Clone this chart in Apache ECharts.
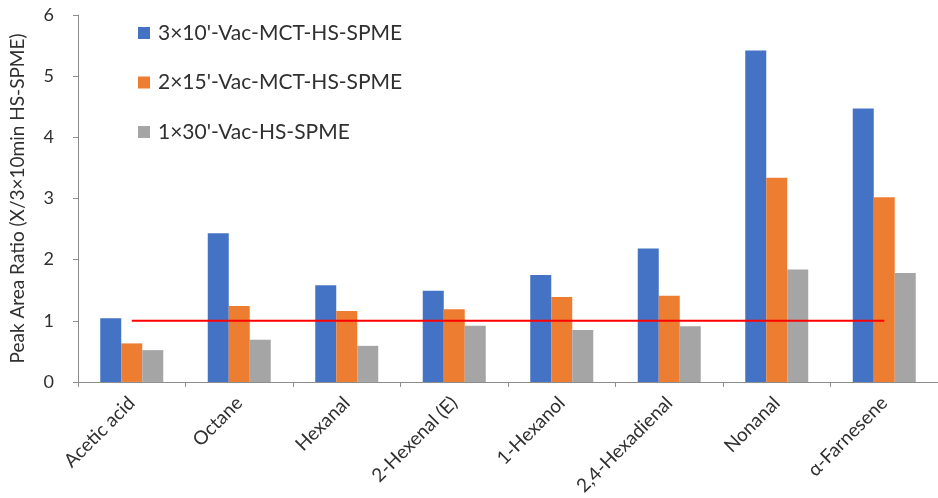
<!DOCTYPE html>
<html>
<head>
<meta charset="utf-8">
<script src="https://cdn.jsdelivr.net/npm/echarts@6/dist/echarts.min.js"></script>
<style>
  html, body { margin: 0; padding: 0; background: #ffffff; }
  #chart { width: 938px; height: 498px; }
</style>
</head>
<body>
<div id="chart"></div>
<script>
// Compounds on the x axis
const categories = ['Acetic acid', 'Octane', 'Hexanal', '2-Hexenal (E)', '1-Hexanol', '2,4-Hexadienal', 'Nonanal', 'α-Farnesene'];

// Peak area ratios relative to 3×10min HS-SPME
const seriesNames = ["3×10'-Vac-MCT-HS-SPME", "2×15'-Vac-MCT-HS-SPME", "1×30'-Vac-HS-SPME"];
const vacMct3x10 = [1.04, 2.43, 1.58, 1.49, 1.75, 2.18, 5.42, 4.47];
const vacMct2x15 = [0.63, 1.24, 1.16, 1.19, 1.39, 1.41, 3.34, 3.02];
const vac1x30   = [0.52, 0.69, 0.59, 0.92, 0.85, 0.91, 1.84, 1.78];

// Reference ratio = 1
const referenceLine = [1, 1, 1, 1, 1, 1, 1, 1];

const yTicks = [0, 1, 2, 3, 4, 5, 6];

const FONT = 'Lato, "Liberation Sans", sans-serif';
const AXIS_GREY = '#8c8c8c';
const TEXT = '#303030';
const colors = ['#4472C4', '#ED7D31', '#A5A5A5'];

const chart = echarts.init(document.getElementById('chart'), null, { renderer: 'canvas' });

const barSeries = [vacMct3x10, vacMct2x15, vac1x30].map((data, i) => ({
  name: seriesNames[i],
  type: 'bar',
  data: data,
  barWidth: 21,
  barGap: '0%',
  itemStyle: { color: colors[i] },
  emphasis: { disabled: true },
  z: 2
}));

chart.setOption({
  animation: false,
  textStyle: { fontFamily: FONT },
  grid: { left: 75, right: -3, top: 15, bottom: 115, containLabel: false },
  legend: {
    data: seriesNames,
    orient: 'vertical',
    left: 133,
    top: 16,
    itemWidth: 12,
    itemHeight: 12,
    itemGap: 25.5,
    icon: 'rect',
    textStyle: { fontFamily: FONT, fontSize: 21, color: TEXT, lineHeight: 24, padding: [0, 0, 0, 3] }
  },
  xAxis: {
    type: 'category',
    data: categories,
    boundaryGap: true,
    axisLine: { lineStyle: { color: AXIS_GREY, width: 1 } },
    axisTick: { show: true, alignWithLabel: false, length: 5, lineStyle: { color: AXIS_GREY } },
    axisLabel: {
      rotate: 45,
      interval: 0,
      margin: 18,
      fontSize: 19,
      fontFamily: FONT,
      color: TEXT
    },
    splitLine: { show: false }
  },
  yAxis: {
    type: 'value',
    min: yTicks[0],
    max: yTicks[yTicks.length - 1],
    interval: 1,
    name: 'Peak Area Ratio (X/3×10min HS-SPME)',
    nameLocation: 'middle',
    nameGap: 51,
    nameTextStyle: { fontSize: 19, fontFamily: FONT, color: TEXT },
    axisLine: { show: true, lineStyle: { color: AXIS_GREY, width: 1 } },
    axisTick: { show: true, length: 5, lineStyle: { color: AXIS_GREY } },
    axisLabel: { fontSize: 18, fontFamily: FONT, color: TEXT, margin: 24 },
    splitLine: { show: false }
  },
  series: barSeries.concat([{
    name: 'reference',
    type: 'line',
    data: referenceLine,
    symbol: 'none',
    lineStyle: { color: '#FF0000', width: 2 },
    emphasis: { disabled: true },
    z: 5
  }])
});
</script>
</body>
</html>
